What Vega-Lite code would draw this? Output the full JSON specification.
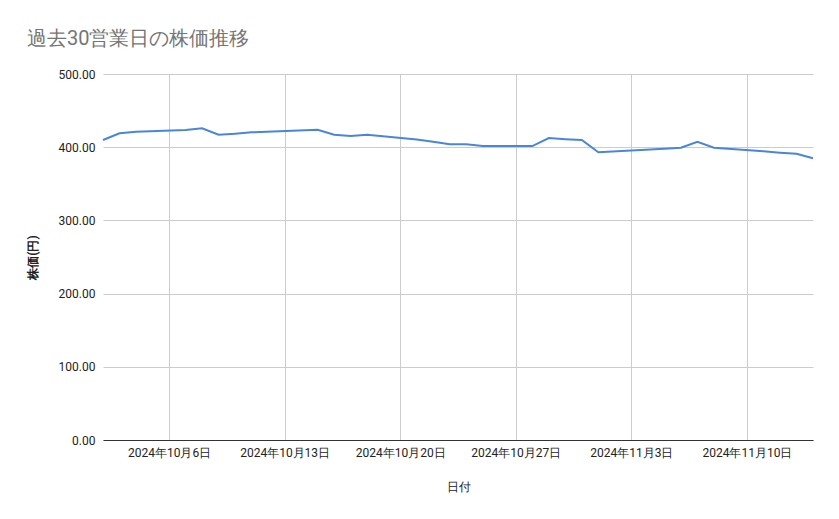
{
  "$schema": "https://vega.github.io/schema/vega-lite/v6.json",
  "width": 710,
  "height": 366,
  "autosize": {"type": "none"},
  "padding": {"left": 103, "top": 74, "right": 26, "bottom": 79},
  "background": "white",
  "title": {
    "text": "過去30営業日の株価推移",
    "anchor": "start",
    "frame": "group",
    "dx": -76,
    "offset": 19,
    "fontSize": 20,
    "fontWeight": "normal",
    "color": "#757575",
    "font": "Roboto"
  },
  "data": {
    "values": [
      {"date": "2024-10-02", "price": 409.8},
      {"date": "2024-10-03", "price": 419.0},
      {"date": "2024-10-04", "price": 421.2},
      {"date": "2024-10-07", "price": 423.5},
      {"date": "2024-10-08", "price": 425.8},
      {"date": "2024-10-09", "price": 417.0},
      {"date": "2024-10-10", "price": 418.4},
      {"date": "2024-10-11", "price": 420.3},
      {"date": "2024-10-15", "price": 423.9},
      {"date": "2024-10-16", "price": 417.1},
      {"date": "2024-10-17", "price": 415.3},
      {"date": "2024-10-18", "price": 417.1},
      {"date": "2024-10-21", "price": 410.5},
      {"date": "2024-10-22", "price": 407.4},
      {"date": "2024-10-23", "price": 404.0},
      {"date": "2024-10-24", "price": 404.0},
      {"date": "2024-10-25", "price": 401.6},
      {"date": "2024-10-28", "price": 401.6},
      {"date": "2024-10-29", "price": 412.6},
      {"date": "2024-10-30", "price": 411.0},
      {"date": "2024-10-31", "price": 409.8},
      {"date": "2024-11-01", "price": 393.0},
      {"date": "2024-11-05", "price": 398.0},
      {"date": "2024-11-06", "price": 399.3},
      {"date": "2024-11-07", "price": 407.5},
      {"date": "2024-11-08", "price": 399.3},
      {"date": "2024-11-11", "price": 394.5},
      {"date": "2024-11-12", "price": 392.5},
      {"date": "2024-11-13", "price": 391.0},
      {"date": "2024-11-14", "price": 385.0}
    ]
  },
  "mark": {"type": "line", "color": "#4a86d8", "strokeWidth": 2},
  "encoding": {
    "x": {
      "field": "date",
      "type": "temporal",
      "title": "日付",
      "scale": {
        "type": "utc",
        "domain": [
          {"year": 2024, "month": 10, "date": 2, "utc": true},
          {"year": 2024, "month": 11, "date": 14, "utc": true}
        ]
      },
      "axis": {
        "values": [
          {"year": 2024, "month": 10, "date": 6, "utc": true},
          {"year": 2024, "month": 10, "date": 13, "utc": true},
          {"year": 2024, "month": 10, "date": 20, "utc": true},
          {"year": 2024, "month": 10, "date": 27, "utc": true},
          {"year": 2024, "month": 11, "date": 3, "utc": true},
          {"year": 2024, "month": 11, "date": 10, "utc": true}
        ],
        "labelExpr": "utcFormat(datum.value, '%Y年%-m月%-d日')",
        "grid": true,
        "gridColor": "#cccccc",
        "ticks": false,
        "domainColor": "#333333",
        "labelPadding": 7,
        "labelFontSize": 12,
        "labelColor": "#222222",
        "labelFont": "Roboto",
        "titleFont": "Roboto",
        "titleFontSize": 12,
        "titleFontWeight": "normal",
        "titleColor": "#222222",
        "titlePadding": 23
      }
    },
    "y": {
      "field": "price",
      "type": "quantitative",
      "title": "株価(円)",
      "scale": {"domain": [0, 500], "nice": false},
      "axis": {
        "values": [0, 100, 200, 300, 400, 500],
        "format": ".2f",
        "grid": true,
        "gridColor": "#cccccc",
        "ticks": false,
        "domain": false,
        "labelPadding": 8,
        "labelFontSize": 12,
        "labelColor": "#222222",
        "labelFont": "Roboto",
        "titleFont": "Roboto",
        "titleFontSize": 12,
        "titleFontWeight": "bold",
        "titleColor": "#222222",
        "titleX": -71,
        "titleY": 183,
        "titleAlign": "center",
        "titleBaseline": "middle"
      }
    }
  },
  "config": {
    "view": {"stroke": null}
  }
}
